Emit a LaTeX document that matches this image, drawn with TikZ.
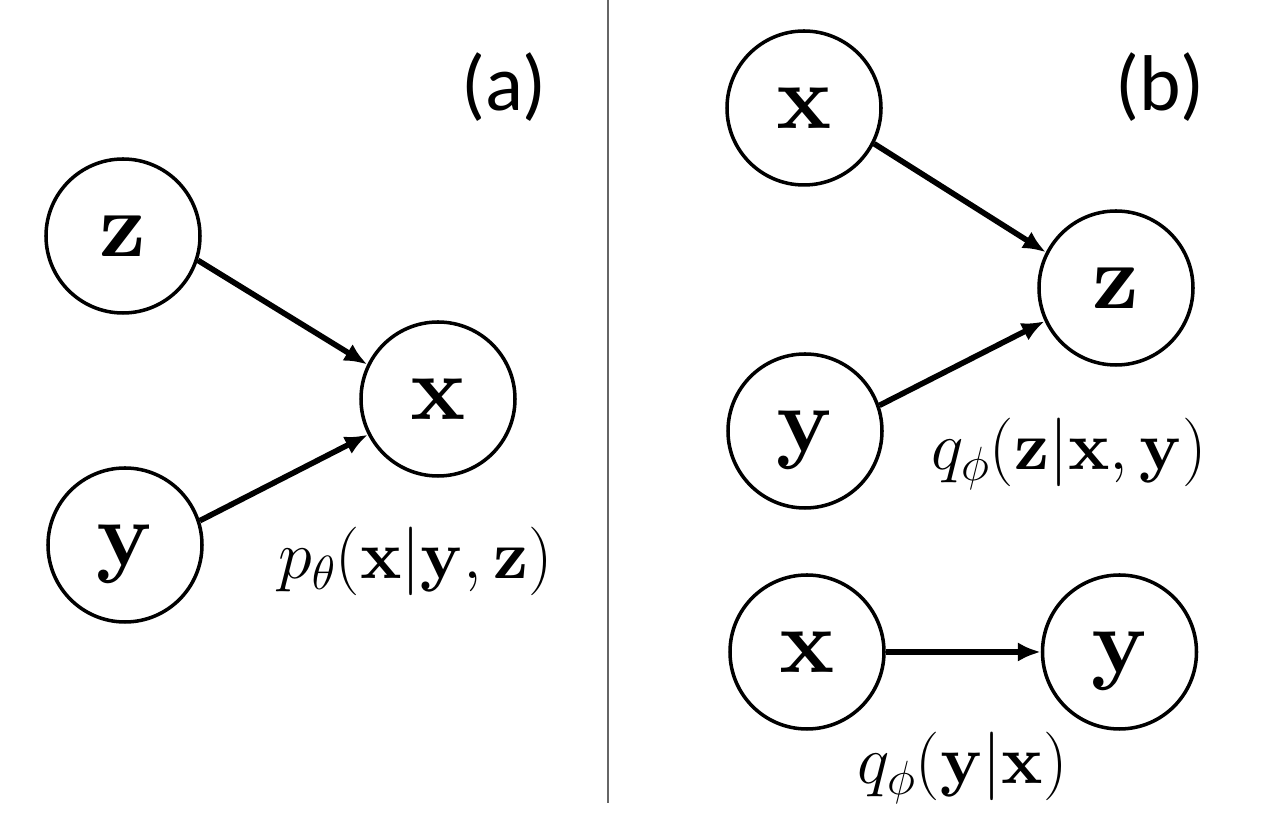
\RequirePackage{fix-cm}
\documentclass[tikz,border=0pt]{standalone}
\usepackage[no-math]{fontspec}
\newfontfamily\panelfont{Carlito}
\DeclareFontFamily{OT1}{cmbxten}{}
\DeclareFontShape{OT1}{cmbxten}{bx}{n}{<->cmbx10}{}
\DeclareMathAlphabet{\mathbf}{OT1}{cmbxten}{bx}{n}
\usepackage{tikz}
\usetikzlibrary{arrows.meta}

\begin{document}
\begin{tikzpicture}[
    varnode/.style={circle, draw, line width=2pt, minimum size=3.08cm,
      font=\fontsize{52}{62}\selectfont, text height=0.84cm, text depth=0pt},
    arr/.style={-{Latex[length=13pt,width=11pt]}, line width=3.2pt},
    cond/.style={anchor=base, font=\fontsize{39}{46}\selectfont},
    panel/.style={anchor=base, font=\panelfont\fontsize{45}{54}\selectfont}]
\useasboundingbox (0,0) rectangle (25.36,16.48);
%\draw[help lines, color=gray!30, dashed] (0,0) grid (25,16);
% (a) generative model
\node[varnode] (za) at (2.46,11.76) {$\mathbf{z}$};
\node[varnode] (ya) at (2.50,5.58) {$\mathbf{y}$};
\node[varnode] (xa) at (8.76,8.50) {$\mathbf{x}$};
\draw[arr] (za.-18) -- (xa.154);
\draw[arr] (ya.18) -- (xa.207);
\node[cond] (pa) at (8.31,4.90) {$p_\theta(\mathbf{x}|\mathbf{y},\mathbf{z})$};
\node[panel] (la) at (10.08,14.26) {(a)};
% divider
\coordinate (top) at (12.16,16.48);
\coordinate (bot) at (12.16,0.42);
\draw[black!60, line width=0.6pt] (top) -- (bot);
% (b) inference model
\node[varnode] (xb) at (16.08,14.32) {$\mathbf{x}$};
\node[varnode] (zb) at (22.32,10.72) {$\mathbf{z}$};
\node[varnode] (yb) at (16.10,7.86) {$\mathbf{y}$};
\draw[arr] (xb.-27) -- (zb.153);
\draw[arr] (yb.19) -- (zb.205);
\node[cond] (qb) at (21.38,7.08) {$q_\phi(\mathbf{z}|\mathbf{x},\mathbf{y})$};
\node[panel] (lb) at (23.20,14.26) {(b)};
\node[varnode] (bx) at (16.14,3.44) {$\mathbf{x}$};
\node[varnode] (by) at (22.39,3.44) {$\mathbf{y}$};
\draw[arr] (bx) -- (by);
\node[cond] (qc) at (19.25,0.80) {$q_\phi(\mathbf{y}|\mathbf{x})$};
\end{tikzpicture}
\end{document}
